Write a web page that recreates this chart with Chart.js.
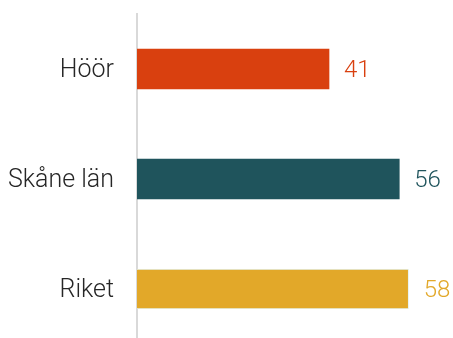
<!DOCTYPE html>
<html>
<head>
<meta charset="utf-8">
<script src="https://cdn.jsdelivr.net/npm/chart.js@4.4.1/dist/chart.umd.min.js"></script>
<style>
    html, body { margin: 0; padding: 0; background: #ffffff; overflow: hidden; }
    #wrap { width: 453px; height: 344px; }
</style>
</head>
<body>
<div id="wrap"><canvas id="chart" width="453" height="344"></canvas></div>
<script>
const categories = ['Höör', 'Skåne län', 'Riket'];
const values = [41, 56, 58];
const barColors = ['#d9400f', '#1f545c', '#e2a829'];

const FONT = "Roboto, 'Open Sans', sans-serif";

// category names on the left and values to the right of each bar
const barLabels = {
    id: 'barLabels',
    afterDatasetsDraw(chart) {
        const ctx = chart.ctx;
        const meta = chart.getDatasetMeta(0);
        ctx.save();
        ctx.textBaseline = 'middle';
        meta.data.forEach((bar, i) => {
            ctx.font = '300 25px ' + FONT;
            ctx.textAlign = 'right';
            ctx.fillStyle = '#262626';
            ctx.fillText(categories[i], chart.chartArea.left - 23, bar.y + 2);
            ctx.font = '300 24px ' + FONT;
            ctx.textAlign = 'left';
            ctx.fillStyle = barColors[i];
            ctx.fillText(String(values[i]), bar.x + 15, bar.y + 2);
        });
        ctx.restore();
    }
};

const ctx = document.getElementById('chart').getContext('2d');
new Chart(ctx, {
    type: 'bar',
    data: {
        labels: categories,
        datasets: [{
            data: values,
            backgroundColor: barColors,
            borderColor: ['#d9400f', '#1f545c', '#e6f4f2'],
            borderWidth: [0, 0, 1],
            borderSkipped: 'left',
            barThickness: 40
        }]
    },
    options: {
        indexAxis: 'y',
        responsive: false,
        animation: false,
        layout: { padding: { top: 14, right: 35, left: 0, bottom: 0 } },
        plugins: {
            legend: { display: false },
            tooltip: { enabled: false }
        },
        scales: {
            x: {
                display: false,
                min: 0,
                max: 60
            },
            y: {
                grid: { display: false, drawTicks: false },
                border: { display: true, color: '#d9d9d9', width: 2 },
                ticks: { display: false },
                afterFit(scale) { scale.width = 137; }
            }
        }
    },
    plugins: [barLabels]
});
</script>
</body>
</html>
